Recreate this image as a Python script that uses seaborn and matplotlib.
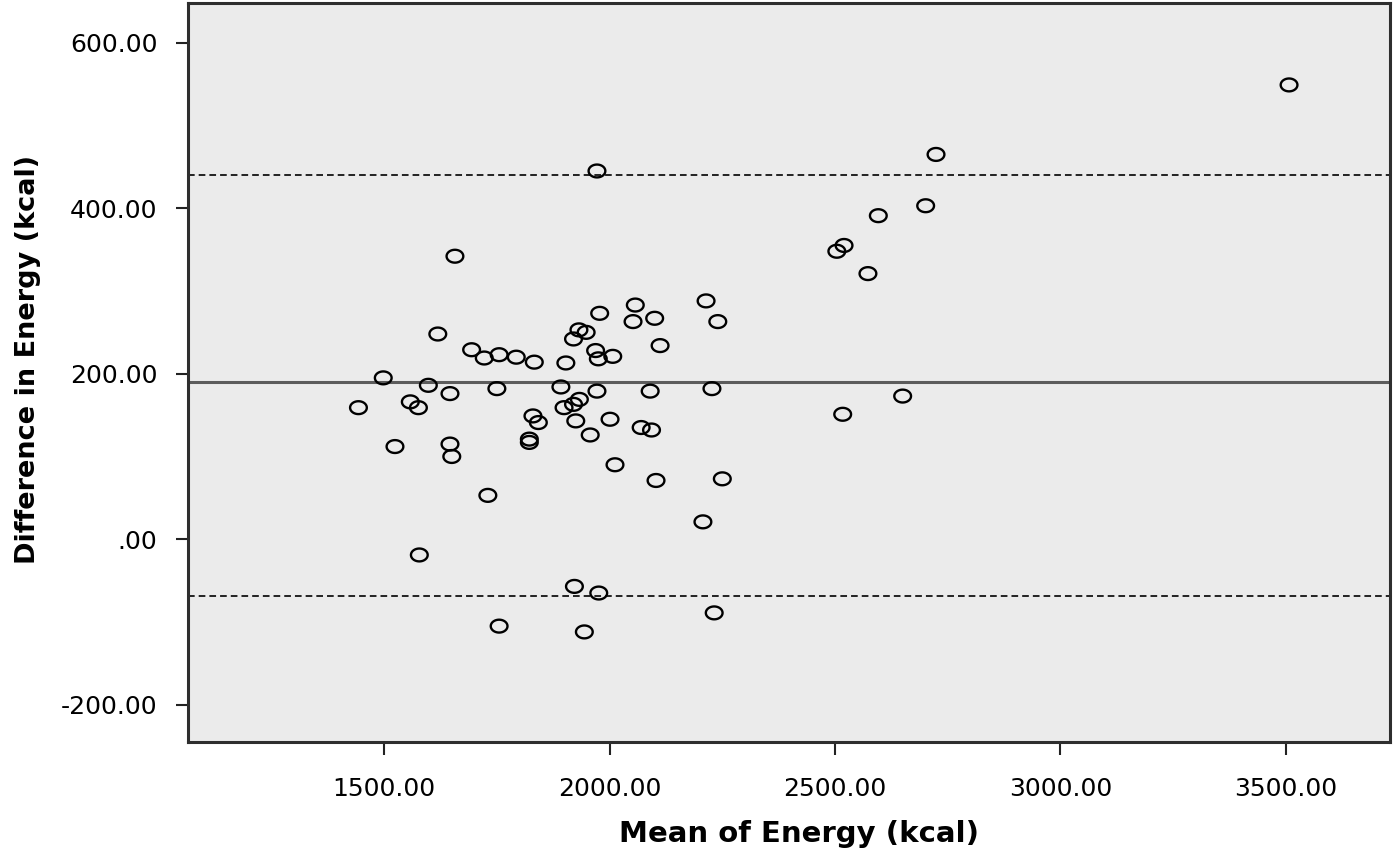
import numpy as np
import pandas as pd
import matplotlib
matplotlib.use("Agg")
import matplotlib.pyplot as plt
import seaborn as sns
from matplotlib.path import Path

# ---- data ----
mean_energy = [1657, 1619, 1694, 1722, 1755, 1793, 1833, 1903, 1978, 2057,
               2052, 1932, 1948, 1920, 1969, 1975, 2007, 1498, 1598, 1750,
               1892, 1646, 1443, 1558, 1576, 1972, 1933, 1920, 1899, 1830,
               1842, 1925, 2001, 2070, 2093, 1957, 1822, 1822, 1524, 1646,
               1650, 2012, 2100, 2112, 2214, 2240, 2090, 2227, 2103, 2250,
               2504, 2520, 2573, 2517, 2650, 1972, 2724, 2701, 2596, 1730,
               1578, 1922, 1976, 1755, 1944, 2232, 2207, 3507]
diff_energy = [342, 248, 229, 219, 223, 220, 214, 213, 273, 283,
               263, 253, 250, 242, 228, 218, 221, 195, 186, 182,
               184, 176, 159, 166, 159, 179, 169, 163, 159, 149,
               141, 143, 145, 135, 132, 126, 121, 117, 112, 115,
               100, 90, 267, 234, 288, 263, 179, 182, 71, 73,
               348, 355, 321, 151, 173, 445, 465, 403, 391, 53,
               -19, -57, -65, -105, -112, -89, 21, 549]
mean_diff = 190.0
upper_loa = 440.0
lower_loa = -69.0

x_ticks = [1500, 2000, 2500, 3000, 3500]
x_tick_labels = ["1500.00", "2000.00", "2500.00", "3000.00", "3500.00"]
y_ticks = [-200, 0, 200, 400, 600]
y_tick_labels = ["-200.00", ".00", "200.00", "400.00", "600.00"]

x_label = "Mean of Energy (kcal)"
y_label = "Difference in Energy (kcal)"

# ---- styling ----
sns.set_theme(style="white")
plt.rcParams['font.family'] = ['DejaVu Sans']
plt.rcParams['lines.scale_dashes'] = False

fig = plt.figure(figsize=(14, 8.56), dpi=100)
fig.patch.set_facecolor("white")
ax = fig.add_axes([0.1343, 0.1332, 0.8586, 0.8633])
ax.set_facecolor("#ebebeb")

df = pd.DataFrame({"mean": mean_energy, "diff": diff_energy})

theta = np.linspace(0, 2 * np.pi, 64)
ellipse = Path(np.column_stack([1.3 * np.cos(theta), np.sin(theta)]), closed=True)

ax.axhline(mean_diff, color="#5c5c5c", lw=2.2, zorder=2)
ax.axhline(upper_loa, color="black", lw=1.2, dashes=(4.8, 2.9), zorder=2)
ax.axhline(lower_loa, color="black", lw=1.2, dashes=(4.8, 2.9), zorder=2)

sns.scatterplot(data=df, x="mean", y="diff", marker=ellipse, s=145,
                facecolors="none", edgecolor="black", linewidth=1.7,
                ax=ax, zorder=3, legend=False)

ax.set_xlim(1065, 3731)
ax.set_ylim(-245, 648)
ax.set_xticks(x_ticks)
ax.set_xticklabels(x_tick_labels)
ax.set_yticks(y_ticks)
ax.set_yticklabels(y_tick_labels)
ax.grid(False)

ax.tick_params(axis="both", which="major", direction="out", bottom=True, left=True,
               length=9, width=1.5, color="#222222", labelsize=18, labelcolor="black")
ax.tick_params(axis="x", pad=16)
ax.tick_params(axis="y", pad=13)

for sp in ax.spines.values():
    sp.set_visible(True)
    sp.set_color("#2e2e2e")
    sp.set_linewidth(2.2)

ax.set_xlabel(x_label, fontsize=21, fontweight="bold", color="black")
ax.set_ylabel(y_label, fontsize=19.5, fontweight="bold", color="black")
ax.xaxis.set_label_coords(0.508, -0.105)
ax.yaxis.set_label_coords(-0.122, 0.518)

fig.savefig("out.png", dpi=100, facecolor="white")
